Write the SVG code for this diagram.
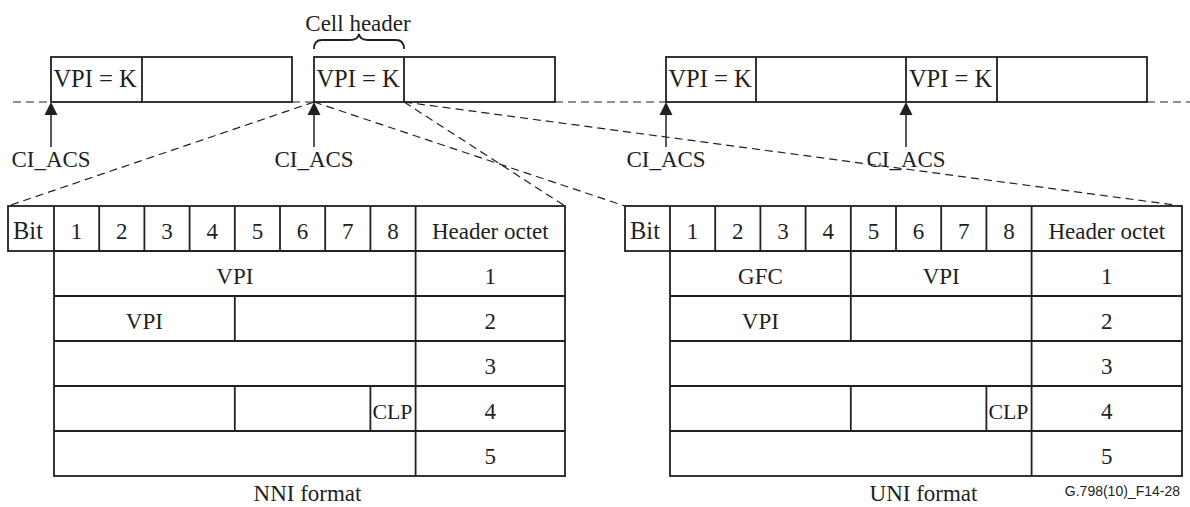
<svg xmlns="http://www.w3.org/2000/svg" width="1190" height="507" viewBox="0 0 1190 507">
<defs>
<style>
.t{font-family:"Liberation Serif","Times New Roman",serif;font-size:23px;fill:#231f20;text-anchor:middle}
.k{font-size:24.5px}
.c{font-size:22px}
.b{fill:none;stroke:#231f20;stroke-width:1.8}
.d{fill:none;stroke:#231f20;stroke-width:1.2;stroke-dasharray:8 5}
.a{stroke:#231f20;stroke-width:1.5}
.h{fill:#231f20}
.s{font-family:"Liberation Sans",Arial,sans-serif;font-size:14px;fill:#231f20;text-anchor:end}
</style>
</defs>
<rect width="1190" height="507" fill="#fff"/>

<g id="connectors">
<line class="d" x1="13" y1="102" x2="51" y2="102"/>
<line class="d" x1="292" y1="102" x2="314" y2="102"/>
<line class="d" x1="555" y1="102" x2="666" y2="102"/>
<line class="d" x1="1147" y1="102" x2="1190" y2="102"/>
<line class="d" x1="314" y1="102" x2="8" y2="206"/>
<line class="d" x1="404" y1="102" x2="565" y2="206"/>
<line class="d" x1="314" y1="102" x2="625" y2="206"/>
<line class="d" x1="404" y1="102" x2="1182" y2="206"/>
<line class="a" x1="51" y1="147" x2="51" y2="112"/>
<polygon class="h" points="51,102 44.5,115 57.5,115"/>
<line class="a" x1="314" y1="147" x2="314" y2="112"/>
<polygon class="h" points="314,102 307.5,115 320.5,115"/>
<line class="a" x1="666" y1="147" x2="666" y2="112"/>
<polygon class="h" points="666,102 659.5,115 672.5,115"/>
<line class="a" x1="906" y1="147" x2="906" y2="112"/>
<polygon class="h" points="906,102 899.5,115 912.5,115"/>
</g>

<g id="cell1">
<rect class="b" x="51" y="57" width="241" height="45"/>
<line class="b" x1="142" y1="57" x2="142" y2="102"/>
<text class="t k" x="95" y="87">VPI = K</text>
</g>
<g id="cell2">
<rect class="b" x="314" y="57" width="241" height="45"/>
<line class="b" x1="404" y1="57" x2="404" y2="102"/>
<text class="t k" x="358" y="87">VPI = K</text>
</g>
<g id="cell3">
<rect class="b" x="666" y="57" width="481" height="45"/>
<line class="b" x1="756" y1="57" x2="756" y2="102"/>
<line class="b" x1="906" y1="57" x2="906" y2="102"/>
<line class="b" x1="997" y1="57" x2="997" y2="102"/>
<text class="t k" x="710" y="87">VPI = K</text>
<text class="t k" x="950.5" y="87">VPI = K</text>
</g>

<g id="cellheader">
<path class="b" d="M314,49 Q314,40 322,40 L350,40 Q358,40 359,34 Q360,40 368,40 L396,40 Q404,40 404,49"/>
<text class="t" x="358" y="31">Cell header</text>
</g>

<g id="labels">
<text class="t" x="51" y="167">CI_ACS</text>
<text class="t" x="314" y="167">CI_ACS</text>
<text class="t" x="666" y="167">CI_ACS</text>
<text class="t" x="906" y="167">CI_ACS</text>
</g>

<g id="nni">
<rect class="b" x="8" y="206" width="557" height="45"/>
<rect class="b" x="54" y="251" width="511" height="225"/>
<g class="b">
<line x1="54" y1="206" x2="54" y2="251"/>
<line x1="99.2" y1="206" x2="99.2" y2="251"/>
<line x1="144.4" y1="206" x2="144.4" y2="251"/>
<line x1="189.6" y1="206" x2="189.6" y2="251"/>
<line x1="234.8" y1="206" x2="234.8" y2="251"/>
<line x1="280" y1="206" x2="280" y2="251"/>
<line x1="325.2" y1="206" x2="325.2" y2="251"/>
<line x1="370.4" y1="206" x2="370.4" y2="251"/>
<line x1="415.6" y1="206" x2="415.6" y2="476"/>
<line x1="54" y1="296" x2="565" y2="296"/>
<line x1="54" y1="341" x2="565" y2="341"/>
<line x1="54" y1="386" x2="565" y2="386"/>
<line x1="54" y1="431" x2="565" y2="431"/>
<line x1="234.8" y1="296" x2="234.8" y2="341"/>
<line x1="234.8" y1="386" x2="234.8" y2="431"/>
<line x1="370.4" y1="386" x2="370.4" y2="431"/>
</g>
<text class="t k" x="28" y="239">Bit</text>
<text class="t" x="76.6" y="239">1</text>
<text class="t" x="121.8" y="239">2</text>
<text class="t" x="167" y="239">3</text>
<text class="t" x="212.2" y="239">4</text>
<text class="t" x="257.4" y="239">5</text>
<text class="t" x="302.6" y="239">6</text>
<text class="t" x="347.8" y="239">7</text>
<text class="t" x="393" y="239">8</text>
<text class="t" x="490.3" y="239">Header octet</text>
<text class="t" x="234.8" y="284">VPI</text>
<text class="t" x="144.4" y="329">VPI</text>
<text class="t c" x="392.5" y="419" textLength="40" lengthAdjust="spacingAndGlyphs">CLP</text>
<text class="t" x="490.3" y="284">1</text>
<text class="t" x="490.3" y="329">2</text>
<text class="t" x="490.3" y="374">3</text>
<text class="t" x="490.3" y="419">4</text>
<text class="t" x="490.3" y="464">5</text>
<text class="t" x="307.5" y="501">NNI format</text>
</g>

<g id="uni">
<rect class="b" x="625" y="206" width="557" height="45"/>
<rect class="b" x="670" y="251" width="512" height="225"/>
<g class="b">
<line x1="670" y1="206" x2="670" y2="251"/>
<line x1="715.2" y1="206" x2="715.2" y2="251"/>
<line x1="760.4" y1="206" x2="760.4" y2="251"/>
<line x1="805.6" y1="206" x2="805.6" y2="251"/>
<line x1="850.8" y1="206" x2="850.8" y2="296"/>
<line x1="896" y1="206" x2="896" y2="251"/>
<line x1="941.2" y1="206" x2="941.2" y2="251"/>
<line x1="986.4" y1="206" x2="986.4" y2="251"/>
<line x1="1031.6" y1="206" x2="1031.6" y2="476"/>
<line x1="670" y1="296" x2="1182" y2="296"/>
<line x1="670" y1="341" x2="1182" y2="341"/>
<line x1="670" y1="386" x2="1182" y2="386"/>
<line x1="670" y1="431" x2="1182" y2="431"/>
<line x1="850.8" y1="296" x2="850.8" y2="341"/>
<line x1="850.8" y1="386" x2="850.8" y2="431"/>
<line x1="986.4" y1="386" x2="986.4" y2="431"/>
</g>
<text class="t k" x="645" y="239">Bit</text>
<text class="t" x="692.6" y="239">1</text>
<text class="t" x="737.8" y="239">2</text>
<text class="t" x="783" y="239">3</text>
<text class="t" x="828.2" y="239">4</text>
<text class="t" x="873.4" y="239">5</text>
<text class="t" x="918.6" y="239">6</text>
<text class="t" x="963.8" y="239">7</text>
<text class="t" x="1009" y="239">8</text>
<text class="t" x="1106.8" y="239">Header octet</text>
<text class="t" x="760.4" y="284">GFC</text>
<text class="t" x="941.2" y="284">VPI</text>
<text class="t" x="760.4" y="329">VPI</text>
<text class="t c" x="1008.5" y="419" textLength="40" lengthAdjust="spacingAndGlyphs">CLP</text>
<text class="t" x="1106.8" y="284">1</text>
<text class="t" x="1106.8" y="329">2</text>
<text class="t" x="1106.8" y="374">3</text>
<text class="t" x="1106.8" y="419">4</text>
<text class="t" x="1106.8" y="464">5</text>
<text class="t" x="923.5" y="501">UNI format</text>
</g>

<g id="figid">
<text class="s" x="1180" y="496">G.798(10)_F14-28</text>
</g>
</svg>
